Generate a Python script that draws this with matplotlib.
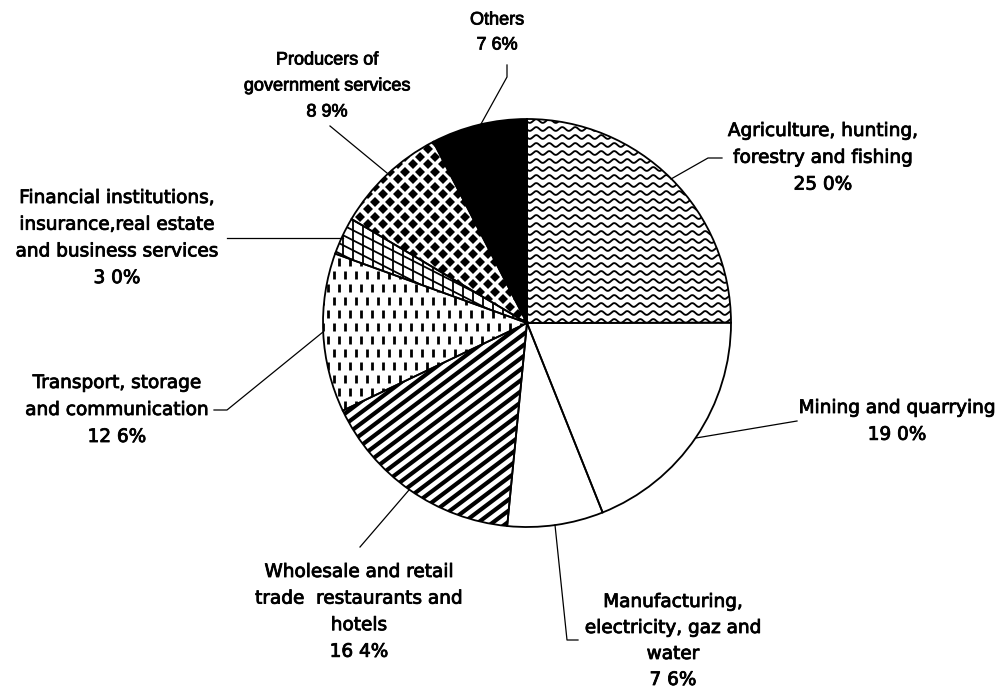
import numpy as np
import matplotlib
matplotlib.use("Agg")
import matplotlib.pyplot as plt
import matplotlib.patheffects as pe
from matplotlib.patches import Wedge
from matplotlib.collections import LineCollection

# ---- data -------------------------------------------------------------
sectors = [
    "Agriculture, hunting,\nforestry and fishing",
    "Mining and quarrying",
    "Manufacturing,\nelectricity, gaz and\nwater",
    "Wholesale and retail\ntrade  restaurants and\nhotels",
    "Transport, storage\nand communication",
    "Financial institutions,\ninsurance,real estate\nand business services",
    "Producers of\ngovernment services",
    "Others",
]
shares = [25.0, 19.0, 7.6, 16.4, 12.6, 3.0, 8.9, 7.6]

# ---- layout (pixel units, y measured from the top) ---------------------
W, H = 1004, 693
CX, CY, R = 527, 323, 204

label_x = [823, 897, 673, 359, 117, 117, 327, 497]
label_y0 = [131, 408, 602, 572, 383, 198, 60, 20]
label_step = [26.8, 26.8, 26.0, 26.6, 27.0, 26.7, 26.0, 25.0]
narrow_font = [False, False, False, False, False, False, True, True]
leaders = [
    [(671, 179), (708, 158), (722, 158)],
    [(696, 438), (797, 421)],
    [(555, 525), (567, 640), (578, 640)],
    [(409, 490), (360, 547)],
    [(323, 332), (227, 410), (214, 410)],
    [(343, 238), (227, 238)],
    [(387, 173), (330, 126)],
    [(481, 124), (507, 77), (507, 65)],
]


def Y(py):
    return H - py


fig = plt.figure(figsize=(W / 100, H / 100), dpi=100)
ax = fig.add_axes([0, 0, 1, 1])

faces = ["white", "white", "white", "white", "white", "white", "white", "black"]
wedges, _ = ax.pie(shares, startangle=90, counterclock=False,
                   center=(CX, Y(CY)), radius=R, colors=faces,
                   wedgeprops=dict(linewidth=0), frame=True)
ax.set_xlim(0, W)
ax.set_ylim(0, H)
ax.set_aspect("equal")
ax.axis("off")

# Agriculture: wavy lines
xs = np.arange(CX - R, CX + R + 1, 0.5)
for py in np.arange(CY - R - 6, CY + 6, 8.0):
    ln, = ax.plot(xs, Y(py) + 1.9 * np.sin(2 * np.pi * xs / 13.0),
                  color="black", lw=1.35, zorder=2)
    ln.set_clip_path(wedges[0])

# Wholesale: bold diagonal stripes
a = np.deg2rad(37)
d = np.array([np.cos(a), np.sin(a)])
n = np.array([-np.sin(a), np.cos(a)])
c = np.array([CX, Y(CY)])
segs = []
for k in np.arange(-1.5 * R, 1.5 * R, 8.8):
    p = c + n * k
    segs.append([p - d * 1.5 * R, p + d * 1.5 * R])
lc = LineCollection(segs, colors="black", linewidths=3.0, zorder=2)
ax.add_collection(lc)
lc.set_clip_path(wedges[3])

# Transport: short vertical dashes
segs = []
for j, py in enumerate(np.arange(CY - R, CY + R, 13.0)):
    off = 5.5 * (j % 2)
    for px in np.arange(CX - R + off, CX + R, 11.0):
        segs.append([(px, Y(py) - 3.6), (px, Y(py) + 3.6)])
lc = LineCollection(segs, colors="black", linewidths=2.0, zorder=2,
                    capstyle="butt")
ax.add_collection(lc)
lc.set_clip_path(wedges[4])

# Financial: cross-hatching
segs = []
for px in np.arange(CX - R, CX + R, 10.0):
    segs.append([(px, Y(CY - R)), (px, Y(CY + R))])
s = np.tan(np.deg2rad(27))
for py in np.arange(CY - 2 * R, CY + 2 * R, 10.0):
    x0, x1 = CX - R, CX + R
    segs.append([(x0, Y(py)), (x1, Y(py + s * (x1 - x0)))])
lc = LineCollection(segs, colors="black", linewidths=1.3, zorder=2)
ax.add_collection(lc)
lc.set_clip_path(wedges[5])

# Producers of government services: diamond checker
pts_x, pts_y = [], []
for j, py in enumerate(np.arange(CY - R, CY + R, 7.5)):
    off = 7.5 * (j % 2)
    for px in np.arange(CX - R + off, CX + R, 15.0):
        pts_x.append(px)
        pts_y.append(Y(py))
dm, = ax.plot(pts_x, pts_y, "D", ms=5.0, color="black", mew=0, zorder=2)
dm.set_clip_path(wedges[6])

# Slice outlines on top of the fills
for w in wedges:
    ax.add_patch(Wedge(w.center, w.r, w.theta1, w.theta2, fill=False,
                       edgecolor="black", linewidth=1.3, zorder=3))

# Labels and leader lines
ink = [pe.withStroke(linewidth=0.6, foreground="black")]
for name, v, x, y0, step, narrow, pts in zip(sectors, shares, label_x, label_y0,
                                             label_step, narrow_font, leaders):
    lines = name.split("\n") + [f"{v:.1f}%".replace(".", " ")]
    if narrow:
        fkw = dict(family=["Liberation Sans", "DejaVu Sans"], fontsize=13.0)
    else:
        fkw = dict(family="DejaVu Sans", fontsize=13.3)
    for i, t in enumerate(lines):
        ax.text(x, Y(y0 + i * step), t, ha="center", va="center",
                color="black", path_effects=ink, **fkw)
    px = [p[0] for p in pts]
    py = [Y(p[1]) for p in pts]
    ax.plot(px, py, color="black", lw=0.9, zorder=4)

fig.savefig("out.png", dpi=100, facecolor="white")
